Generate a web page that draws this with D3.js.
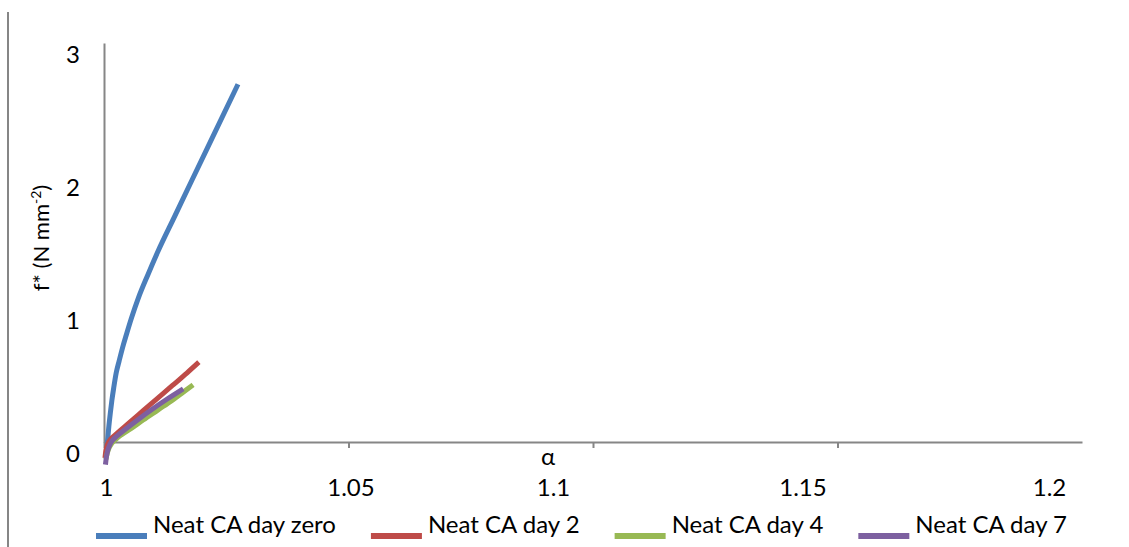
<!DOCTYPE html>
<html>
<head>
<meta charset="utf-8">
<script src="https://cdn.jsdelivr.net/npm/d3@7"></script>
<style>
  body { margin: 0; background: #fff; }
  svg text { font-family: Lato, "Open Sans", sans-serif; fill: #000; }
</style>
</head>
<body>
<svg id="chart" width="1129" height="547"></svg>
<script>
// Series: stretch ratio α against reduced force f* for neat CA at each ageing day
const seriesNames = ["Neat CA day zero", "Neat CA day 2", "Neat CA day 4", "Neat CA day 7"];
const seriesColors = ["#4a7ebb", "#be4b48", "#98b954", "#7d60a0"];

const alphaDayZero = [1.0006, 1.0008, 1.0010, 1.0013, 1.0016, 1.0020, 1.0025, 1.0031, 1.0038, 1.0046, 1.0056, 1.0070, 1.0090, 1.0110, 1.0145, 1.0180, 1.0227, 1.0274];
const fDayZero     = [-0.04, 0.04, 0.12, 0.22, 0.31, 0.41, 0.52, 0.61, 0.71, 0.81, 0.93, 1.08, 1.26, 1.43, 1.70, 1.97, 2.33, 2.69];

const alphaDay2 = [1.0002, 1.0004, 1.0007, 1.0011, 1.0018, 1.0030, 1.0050, 1.0080, 1.0110, 1.0140, 1.0170, 1.0194];
const fDay2     = [-0.12, -0.06, -0.02, 0.01, 0.037, 0.077, 0.14, 0.235, 0.33, 0.425, 0.52, 0.60];

const alphaDay4 = [1.0004, 1.0007, 1.0011, 1.0016, 1.0024, 1.0036, 1.0055, 1.0080, 1.0110, 1.0140, 1.0162, 1.0182];
const fDay4     = [-0.13, -0.08, -0.04, -0.01, 0.02, 0.055, 0.10, 0.165, 0.24, 0.315, 0.375, 0.43];

const alphaDay7 = [1.0003, 1.0005, 1.0008, 1.0012, 1.0018, 1.0028, 1.0045, 1.0070, 1.0100, 1.0130, 1.0162];
const fDay7     = [-0.17, -0.11, -0.06, -0.02, 0.015, 0.05, 0.10, 0.17, 0.25, 0.325, 0.40];

const xTicks = [1, 1.05, 1.1, 1.15, 1.2];
const xTickLabels = ["1", "1.05", "1.1", "1.15", "1.2"];
const yTicks = [0, 1, 2, 3];
const yTickLabels = ["0", "1", "2", "3"];

const seriesAlpha = [alphaDayZero, alphaDay2, alphaDay4, alphaDay7];
const seriesF = [fDayZero, fDay2, fDay4, fDay7];

// ---- layout ----
const svg = d3.select("#chart");
const plot = { left: 104, right: 1082, top: 43, bottom: 442 };
const axisColor = "#868686";
const tickFont = 24;

const x = d3.scaleLinear().domain([1, 1.2]).range([plot.left, plot.right]);
const y = d3.scaleLinear().domain([0, 3]).range([plot.bottom, plot.top]);

// outer frame edge on the left
svg.append("line")
  .attr("x1", 8).attr("x2", 8).attr("y1", 12).attr("y2", 547)
  .attr("stroke", axisColor).attr("stroke-width", 2);

// y axis (no tick marks, labels sit a little below their values)
const yAxis = svg.append("g")
  .attr("transform", `translate(${plot.left},0)`)
  .call(d3.axisLeft(y).tickValues(yTicks).tickFormat((d, i) => yTickLabels[i]).tickSize(0).tickPadding(24));
yAxis.select(".domain").attr("stroke", axisColor).attr("stroke-width", 2);
yAxis.selectAll("text")
  .attr("font-size", tickFont)
  .attr("font-family", "Lato, 'Open Sans', sans-serif")
  .attr("dy", "0.35em")
  .attr("transform", "translate(0,11)");

// x axis
const xLabelShift = [2, 2, -40, -35, -33];
const xAxis = svg.append("g")
  .attr("transform", `translate(0,${plot.bottom})`)
  .call(d3.axisBottom(x).tickValues(xTicks).tickFormat((d, i) => xTickLabels[i]).tickSizeOuter(0).tickSizeInner(6));
xAxis.select(".domain").attr("stroke", axisColor).attr("stroke-width", 2);
xAxis.selectAll(".tick line").attr("stroke", axisColor).attr("stroke-width", 2)
  .attr("opacity", (d, i) => i === xTicks.length - 1 ? 0 : 1);
xAxis.selectAll(".tick text")
  .attr("font-size", tickFont)
  .attr("font-family", "Lato, 'Open Sans', sans-serif")
  .attr("y", 54).attr("dy", 0)
  .attr("x", (d, i) => xLabelShift[i]);

// axis titles
svg.append("text")
  .attr("x", 548).attr("y", 465)
  .attr("text-anchor", "middle")
  .attr("font-size", tickFont)
  .text("α");

const yTitle = svg.append("text")
  .attr("transform", "translate(49,238) rotate(-90)")
  .attr("text-anchor", "middle")
  .attr("font-size", 22);
yTitle.append("tspan").text("f* (N mm");
yTitle.append("tspan").attr("font-size", 14).attr("dy", -8).text("-2");
yTitle.append("tspan").attr("dy", 8).text(")");

// series lines
const line = d3.line()
  .x(d => x(d[0]))
  .y(d => y(d[1]))
  .curve(d3.curveMonotoneX);

seriesAlpha.forEach((alphas, s) => {
  const pts = alphas.map((a, i) => [a, seriesF[s][i]]);
  svg.append("path")
    .datum(pts)
    .attr("d", line)
    .attr("fill", "none")
    .attr("stroke", seriesColors[s])
    .attr("stroke-width", 5)
    .attr("stroke-linecap", "butt")
    .attr("stroke-linejoin", "round");
});

// legend: swatch + name, laid out left to right
let lx = 96;
const legendBaseline = 533;
seriesNames.forEach((name, s) => {
  svg.append("line")
    .attr("x1", lx).attr("x2", lx + 51)
    .attr("y1", legendBaseline + 3).attr("y2", legendBaseline + 3)
    .attr("stroke", seriesColors[s]).attr("stroke-width", 6);
  const t = svg.append("text")
    .attr("x", lx + 57).attr("y", legendBaseline)
    .attr("font-size", tickFont)
    .text(name);
  lx += 57 + t.node().getComputedTextLength() + 35;
});
</script>
</body>
</html>
